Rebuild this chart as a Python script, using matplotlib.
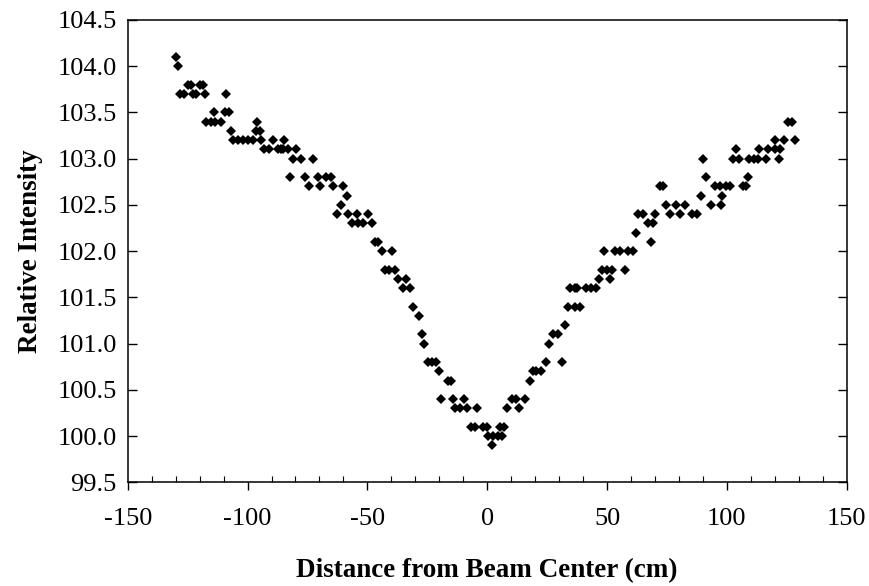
import matplotlib.pyplot as plt
from matplotlib.ticker import MultipleLocator

plt.rcParams['font.family'] = ['Liberation Serif', 'DejaVu Serif']
plt.rcParams['axes.unicode_minus'] = False

# beam profile scan: distance from beam center (cm) and relative intensity
distance_cm = [
    -129.7, -129.0, -128.3, -126.5, -124.8, -123.4, -122.7, -121.3, -120.0, -118.6,
    -117.9, -117.2, -115.4, -114.0, -113.4, -111.2, -109.5, -108.8, -107.8, -107.0,
    -106.0, -104.0, -101.9, -99.8, -97.7, -96.6, -95.9, -94.9, -94.2, -93.1,
    -91.2, -89.4, -87.3, -85.9, -85.2, -84.8, -83.1, -82.4, -81.0, -79.6,
    -77.5, -76.1, -74.3, -72.7, -70.6, -69.9, -67.1, -65.0, -64.3, -62.6,
    -60.8, -60.1, -58.7, -58.0, -56.6, -54.5, -53.9, -51.8, -49.7, -47.9,
    -47.0, -45.5, -44.1, -42.6, -41.0, -39.9, -38.5, -37.2, -35.1, -33.7,
    -32.3, -31.0, -28.3, -27.2, -26.2, -24.8, -23.0, -21.3, -20.2, -19.1,
    -16.5, -15.0, -14.4, -13.3, -11.2, -9.5, -8.4, -6.6, -5.0, -4.3,
    -1.7, 0.0, 0.4, 2.2, 2.5, 4.6, 5.3, 6.0, 7.0, 8.1,
    10.2, 12.0, 13.4, 15.8, 17.8, 19.0, 20.5, 22.3, 24.5, 25.9,
    27.3, 29.4, 31.1, 32.6, 33.7, 34.4, 36.5, 36.5, 37.6, 38.6,
    41.4, 43.5, 45.6, 46.5, 47.7, 48.6, 49.8, 51.1, 51.9, 53.3,
    55.3, 57.5, 58.8, 60.9, 62.0, 63.1, 65.2, 67.2, 68.2, 69.0,
    70.1, 72.0, 73.5, 74.5, 76.2, 78.9, 80.4, 82.4, 85.3, 87.4,
    89.4, 90.1, 91.2, 93.2, 95.0, 97.0, 97.4, 97.8, 99.5, 101.3,
    102.4, 103.8, 104.9, 106.8, 108.0, 108.7, 109.4, 111.5, 112.9, 113.6,
    116.4, 117.1, 119.9, 119.9, 121.6, 122.0, 123.8, 125.5, 127.0, 128.4,
]
rel_intensity = [
    104.1, 104.0, 103.7, 103.7, 103.8, 103.8, 103.7, 103.7, 103.8, 103.8,
    103.7, 103.4, 103.4, 103.5, 103.4, 103.4, 103.5, 103.7, 103.5, 103.3,
    103.2, 103.2, 103.2, 103.2, 103.2, 103.3, 103.4, 103.3, 103.2, 103.1,
    103.1, 103.2, 103.1, 103.1, 103.1, 103.2, 103.1, 102.8, 103.0, 103.1,
    103.0, 102.8, 102.7, 103.0, 102.8, 102.7, 102.8, 102.8, 102.7, 102.4,
    102.5, 102.7, 102.6, 102.4, 102.3, 102.4, 102.3, 102.3, 102.4, 102.3,
    102.1, 102.1, 102.0, 101.8, 101.8, 102.0, 101.8, 101.7, 101.6, 101.7,
    101.6, 101.4, 101.3, 101.1, 101.0, 100.8, 100.8, 100.8, 100.7, 100.4,
    100.6, 100.6, 100.4, 100.3, 100.3, 100.4, 100.3, 100.1, 100.1, 100.3,
    100.1, 100.1, 100.0, 99.9, 100.0, 100.0, 100.1, 100.0, 100.1, 100.3,
    100.4, 100.4, 100.3, 100.4, 100.6, 100.7, 100.7, 100.7, 100.8, 101.0,
    101.1, 101.1, 100.8, 101.2, 101.4, 101.6, 101.4, 101.6, 101.6, 101.4,
    101.6, 101.6, 101.6, 101.7, 101.8, 102.0, 101.8, 101.7, 101.8, 102.0,
    102.0, 101.8, 102.0, 102.0, 102.2, 102.4, 102.4, 102.3, 102.1, 102.3,
    102.4, 102.7, 102.7, 102.5, 102.4, 102.5, 102.4, 102.5, 102.4, 102.4,
    102.6, 103.0, 102.8, 102.5, 102.7, 102.7, 102.5, 102.6, 102.7, 102.7,
    103.0, 103.1, 103.0, 102.7, 102.7, 102.8, 103.0, 103.0, 103.0, 103.1,
    103.0, 103.1, 103.1, 103.2, 103.0, 103.1, 103.2, 103.4, 103.4, 103.2,
]

fig = plt.figure(figsize=(8.7, 5.86), dpi=100)
ax = fig.add_axes([0.1468, 0.177, 0.8264, 0.789])

ax.plot(distance_cm, rel_intensity, linestyle='none', marker='D',
        markersize=5, color='black', markeredgewidth=0)

ax.set_xlim(-150, 150)
ax.set_ylim(99.5, 104.5)
ax.xaxis.set_major_locator(MultipleLocator(50))
ax.xaxis.set_minor_locator(MultipleLocator(10))
ax.yaxis.set_major_locator(MultipleLocator(0.5))
ax.yaxis.set_major_formatter(plt.FormatStrFormatter('%.1f'))

for side in ax.spines.values():
    side.set_linewidth(1.1)

ax.tick_params(axis='x', which='major', direction='out', length=5.8, width=1,
               labelsize=19, pad=13)
ax.tick_params(axis='x', which='minor', direction='in', length=4.3, width=0.8)
ax.tick_params(axis='y', which='major', direction='in', length=6.5, width=1,
               labelsize=19, pad=8, right=True)

ax.set_xlabel('Distance from Beam Center (cm)', fontsize=19.5,
              fontweight='bold', labelpad=20)
ax.set_ylabel('Relative Intensity', fontsize=19.5, fontweight='bold',
              labelpad=10)

fig.savefig('out.png', dpi=100)
